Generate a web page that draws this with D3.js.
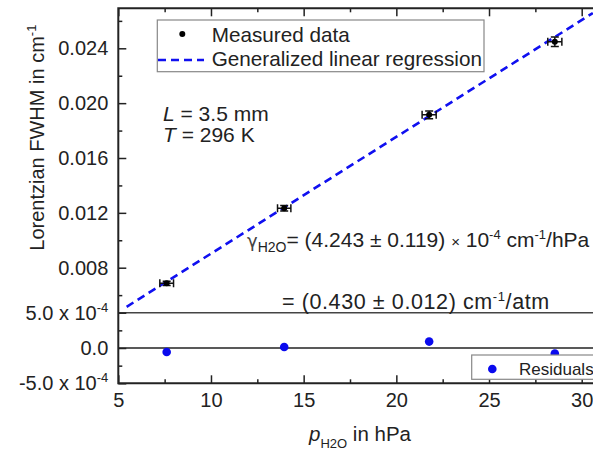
<!DOCTYPE html>
<html>
<head>
<meta charset="utf-8">
<script src="https://cdn.jsdelivr.net/npm/d3@7"></script>
<style>
  body { margin: 0; background: #fff; }
  svg { font-family: "Liberation Sans", Arial, sans-serif; }
</style>
</head>
<body>
<svg id="chart"></svg>
<script>
// measured Lorentzian widths vs water partial pressure
const pressure = [7.61, 13.95, 21.77, 28.55];
const pressureErr = [0.37, 0.36, 0.38, 0.38];
const fwhm = [0.00686, 0.01234, 0.01915, 0.02448];
const fwhmErr = [0.00015, 0.0002, 0.00028, 0.00034];
const residuals = [-0.57e-4, 0.14e-4, 0.91e-4, -0.8e-4];

// regression line end points
const fitPressure = [5.45, 30.6];
const fitFwhm = [0.00515, 0.02657];

const xTicks = [5, 10, 15, 20, 25, 30];
const xMinor = [7.5, 12.5, 17.5, 22.5, 27.5];
const yTicks = [0.008, 0.012, 0.016, 0.020, 0.024];
const yMinor = [0.006, 0.010, 0.014, 0.018, 0.022, 0.026];
const resTicks = [-5e-4, 0, 5e-4];
const resMinor = [-2.5e-4, 2.5e-4];

const width = 593;
const height = 451;

const svg = d3.select("#chart").attr("width", width).attr("height", height);

const plotLeft = 118.3, plotRight = 600, plotTop = 8.3, plotMid = 312.7, plotBottom = 383.3;

const x = d3.scaleLinear().domain([5, 30]).range([plotLeft, 581.7]);
const y = d3.scaleLinear().domain([0.008, 0.024]).range([267.7, 48.3]);
const yRes = d3.scaleLinear().domain([-5e-4, 5e-4]).range([plotBottom, plotMid]);

svg.append("defs").append("clipPath").attr("id", "mainClip")
  .append("rect").attr("x", plotLeft).attr("y", plotTop)
  .attr("width", plotRight - plotLeft).attr("height", plotMid - plotTop);

// horizontal panel lines
svg.append("line").attr("x1", plotLeft).attr("x2", plotRight)
  .attr("y1", plotMid).attr("y2", plotMid)
  .attr("stroke", "#444").attr("stroke-width", 1.6);
svg.append("line").attr("x1", plotLeft).attr("x2", plotRight)
  .attr("y1", yRes(0)).attr("y2", yRes(0))
  .attr("stroke", "#222").attr("stroke-width", 1.6);

function styleAxis(g, size) {
  g.select(".domain").remove();
  g.selectAll(".tick line").attr("stroke", "#222").attr("stroke-width", 1.5);
  g.selectAll(".tick text").attr("font-size", size || 20).attr("fill", "#222")
    .attr("font-family", "Liberation Sans, Arial, sans-serif");
}

// left axis, main panel
const yAxis = svg.append("g").attr("transform", `translate(${plotLeft},0)`)
  .call(d3.axisLeft(y).tickValues(yTicks).tickSize(-8).tickPadding(10).tickFormat(d3.format(".3f")));
styleAxis(yAxis);
const yAxisMinor = svg.append("g").attr("transform", `translate(${plotLeft},0)`)
  .call(d3.axisLeft(y).tickValues(yMinor).tickSize(-4).tickFormat(""));
styleAxis(yAxisMinor);

// left axis, residual panel
const resAxis = svg.append("g").attr("transform", `translate(${plotLeft},0)`)
  .call(d3.axisLeft(yRes).tickValues(resTicks).tickSize(-8).tickPadding(10));
styleAxis(resAxis);
resAxis.selectAll(".tick text").each(function (d) {
  const t = d3.select(this);
  t.text(null);
  if (d === 0) {
    t.text("0.0");
  } else {
    t.append("tspan").text((d < 0 ? "-" : "") + (Math.abs(d) / 1e-4).toFixed(1) + " x 10");
    t.append("tspan").attr("dy", -8).attr("font-size", 13).text("-4");
  }
});
const resMinorAxis = svg.append("g").attr("transform", `translate(${plotLeft},0)`)
  .call(d3.axisLeft(yRes).tickValues(resMinor).tickSize(-4).tickFormat(""));
styleAxis(resMinorAxis);

// bottom axis
const xAxis = svg.append("g").attr("transform", `translate(0,${plotBottom})`)
  .call(d3.axisBottom(x).tickValues(xTicks).tickSize(-8).tickPadding(10).tickFormat(d3.format("d")));
styleAxis(xAxis);
const xAxisMinor = svg.append("g").attr("transform", `translate(0,${plotBottom})`)
  .call(d3.axisBottom(x).tickValues(xMinor).tickSize(-4).tickFormat(""));
styleAxis(xAxisMinor);

// top axis, ticks only
const topAxis = svg.append("g").attr("transform", `translate(0,${plotTop})`)
  .call(d3.axisTop(x).tickValues(xTicks).tickSize(-8).tickFormat(""));
styleAxis(topAxis);
const topAxisMinor = svg.append("g").attr("transform", `translate(0,${plotTop})`)
  .call(d3.axisTop(x).tickValues(xMinor).tickSize(-4).tickFormat(""));
styleAxis(topAxisMinor);

// frame
svg.append("path")
  .attr("d", `M${plotRight},${plotTop}H${plotLeft}V${plotBottom}H${plotRight}`)
  .attr("fill", "none").attr("stroke", "#222").attr("stroke-width", 2);

// regression line
const fitData = fitPressure.map((p, i) => [p, fitFwhm[i]]);
svg.append("path")
  .datum(fitData)
  .attr("clip-path", "url(#mainClip)")
  .attr("d", d3.line().x(d => x(d[0])).y(d => y(d[1])))
  .attr("fill", "none")
  .attr("stroke", "#1010f0")
  .attr("stroke-width", 2.6)
  .attr("stroke-dasharray", "8,5");

// measured points with error bars
const pts = pressure.map((p, i) => ({ p: p, pe: pressureErr[i], w: fwhm[i], we: fwhmErr[i] }));
const cap = 4;
const eb = svg.append("g").attr("stroke", "#111").attr("stroke-width", 1.5);
pts.forEach(d => {
  const cx = x(d.p), cy = y(d.w);
  const x0 = x(d.p - d.pe), x1 = x(d.p + d.pe);
  const y0 = y(d.w - d.we), y1 = y(d.w + d.we);
  eb.append("path").attr("fill", "none").attr("d",
    `M${x0},${cy}H${x1}` +
    `M${x0},${cy - cap}V${cy + cap}M${x1},${cy - cap}V${cy + cap}` +
    `M${cx},${y0}V${y1}` +
    `M${cx - cap},${y0}H${cx + cap}M${cx - cap},${y1}H${cx + cap}`);
});
svg.append("g").selectAll("circle")
  .data(pts).enter().append("circle")
  .attr("cx", d => x(d.p)).attr("cy", d => y(d.w))
  .attr("r", 3).attr("fill", "#000");

// residual points
svg.append("g").selectAll("circle")
  .data(residuals).enter().append("circle")
  .attr("cx", (d, i) => x(pressure[i])).attr("cy", d => yRes(d))
  .attr("r", 4.3).attr("fill", "#0a0aee");

// main legend
const lg = svg.append("g");
lg.append("rect").attr("x", 157.3).attr("y", 20).attr("width", 326.7).attr("height", 51.7)
  .attr("fill", "#fff").attr("stroke", "#888").attr("stroke-width", 1.2);
lg.append("circle").attr("cx", 182.3).attr("cy", 34).attr("r", 3).attr("fill", "#000");
lg.append("line").attr("x1", 158).attr("x2", 204).attr("y1", 60).attr("y2", 60)
  .attr("stroke", "#1010f0").attr("stroke-width", 2.6).attr("stroke-dasharray", "8,5");
lg.append("text").attr("x", 211.7).attr("y", 41.5).attr("font-size", 20.7).attr("fill", "#222").text("Measured data");
lg.append("text").attr("x", 211.7).attr("y", 65.5).attr("font-size", 20.7).attr("fill", "#222").text("Generalized linear regression");

// residual legend
const rl = svg.append("g");
rl.append("rect").attr("x", 471.7).attr("y", 355).attr("width", 140).attr("height", 24.3)
  .attr("fill", "#fff").attr("stroke", "#888").attr("stroke-width", 1.2);
rl.append("circle").attr("cx", 492.3).attr("cy", 369).attr("r", 4.3).attr("fill", "#0a0aee");
rl.append("text").attr("x", 519).attr("y", 374.5).attr("font-size", 17).attr("fill", "#222").text("Residuals");

// annotations
const a1 = svg.append("text").attr("x", 163).attr("y", 121).attr("font-size", 21).attr("fill", "#222");
a1.append("tspan").attr("font-style", "italic").text("L");
a1.append("tspan").text(" = 3.5 mm");
const a2 = svg.append("text").attr("x", 163).attr("y", 142).attr("font-size", 21).attr("fill", "#222");
a2.append("tspan").attr("font-style", "italic").text("T");
a2.append("tspan").text(" = 296 K");

const g1 = svg.append("text").attr("x", 247).attr("y", 246.7).attr("font-size", 21).attr("fill", "#222");
g1.append("tspan").attr("fill", "#444").attr("font-family", "DejaVu Sans").attr("font-size", 18).text("γ");
g1.append("tspan").attr("font-size", 14).attr("dy", 5).text("H2O");
g1.append("tspan").attr("dy", -5).text("= (4.243 ± 0.119) ");
g1.append("tspan").attr("font-size", 15).text("×");
g1.append("tspan").text(" 10");
g1.append("tspan").attr("font-size", 13).attr("dy", -8).text("-4");
g1.append("tspan").attr("dy", 8).text(" cm");
g1.append("tspan").attr("font-size", 13).attr("dy", -8).text("-1");
g1.append("tspan").attr("dy", 8).text("/hPa");

const g2 = svg.append("text").attr("x", 282).attr("y", 309.3).attr("font-size", 21.5)
  .attr("letter-spacing", 0.6).attr("fill", "#222");
g2.append("tspan").text("= (0.430 ± 0.012) cm");
g2.append("tspan").attr("font-size", 13).attr("dy", -8).text("-1");
g2.append("tspan").attr("dy", 8).text("/atm");

// axis titles
const yt = svg.append("text").attr("transform", "translate(44.3,250.7) rotate(-90)")
  .attr("font-size", 20).attr("fill", "#222");
yt.append("tspan").text("Lorentzian FWHM in cm");
yt.append("tspan").attr("font-size", 13).attr("dy", -8).text("-1");

const xt = svg.append("text").attr("x", 309).attr("y", 441).attr("font-size", 20.5).attr("fill", "#222");
xt.append("tspan").attr("font-style", "italic").text("p");
xt.append("tspan").attr("font-size", 13).attr("dy", 7).text("H2O");
xt.append("tspan").attr("dy", -7).text(" in hPa");
</script>
</body>
</html>
